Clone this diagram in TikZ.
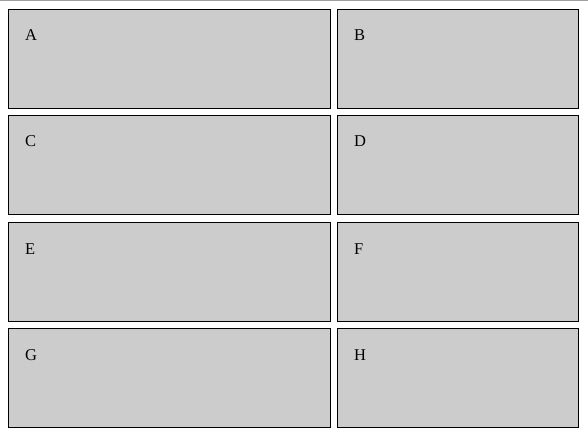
\documentclass[tikz,border=0pt]{standalone}
\usepackage{fontspec}
\setmainfont{Liberation Serif}
\usepackage{tikz}
\usetikzlibrary{positioning}
\definecolor{panelgray}{RGB}{204,204,204}
\definecolor{rulegray}{RGB}{160,160,160}
\tikzset{
  panel/.style={rectangle, draw=black, fill=panelgray, line width=1pt,
    inner sep=0pt, minimum height=99pt, anchor=north west},
  widepanel/.style={panel, minimum width=322pt},
  narrowpanel/.style={panel, minimum width=241pt},
  panellabel/.style={anchor=base west, inner sep=0pt,
    font=\fontsize{16.5}{19}\selectfont}
}
\begin{document}
\begin{tikzpicture}[x=1pt, y=-1pt]
  \useasboundingbox (0,0) rectangle (588,438);
  % top rule
  \draw[rulegray, line width=1.5pt] (0,0.75) -- (588,0.75);
  % panels, two per row
  \foreach \lft/\rgt/\y in {A/B/9, C/D/115, E/F/222, G/H/328} {
    \node[widepanel] (panel\lft) at (8,\y) {};
    \node[narrowpanel] (panel\rgt) at (337,\y) {};
    \pgfmathsetmacro{\yb}{\y+32}
    \node[panellabel] (label\lft) at (25,\yb) {\lft};
    \node[panellabel] (label\rgt) at (354,\yb) {\rgt};
  }
\end{tikzpicture}
\end{document}
